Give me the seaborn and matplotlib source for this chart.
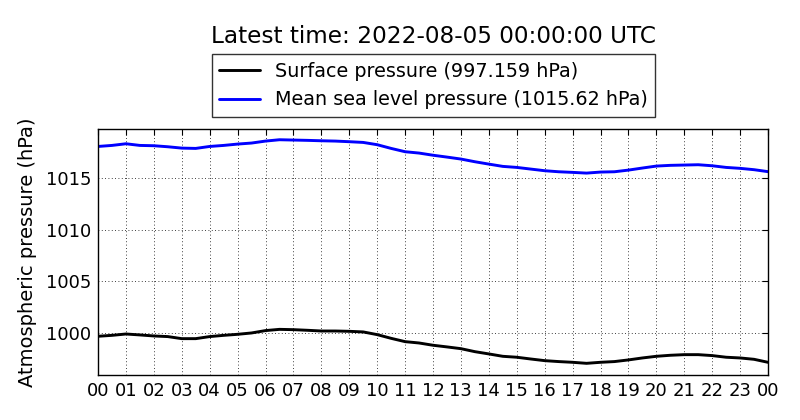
import numpy as np
import pandas as pd
import seaborn as sns
import matplotlib
matplotlib.use("Agg")
import matplotlib.pyplot as plt

# Half-hourly readings (hours since 2022-08-04 00:00 UTC)
hours = np.arange(0, 24.5, 0.5)

surface = [999.68, 999.77, 999.90, 999.81, 999.71, 999.65, 999.45, 999.45,
           999.65, 999.77, 999.87, 1000.00, 1000.23, 1000.35, 1000.32, 1000.26,
           1000.19, 1000.19, 1000.16, 1000.10, 999.84, 999.48, 999.16, 999.03,
           998.81, 998.65, 998.48, 998.19, 997.97, 997.74, 997.65, 997.48,
           997.32, 997.23, 997.16, 997.06, 997.16, 997.23, 997.39, 997.58,
           997.74, 997.84, 997.90, 997.90, 997.81, 997.65, 997.58, 997.45,
           997.159]

mslp = [1018.06, 1018.16, 1018.32, 1018.16, 1018.13, 1018.03, 1017.90, 1017.87,
        1018.06, 1018.16, 1018.29, 1018.39, 1018.58, 1018.71, 1018.68, 1018.65,
        1018.61, 1018.58, 1018.52, 1018.45, 1018.23, 1017.87, 1017.55, 1017.42,
        1017.21, 1017.03, 1016.84, 1016.58, 1016.35, 1016.13, 1016.03, 1015.87,
        1015.71, 1015.61, 1015.55, 1015.48, 1015.58, 1015.61, 1015.77, 1015.97,
        1016.16, 1016.23, 1016.26, 1016.29, 1016.19, 1016.03, 1015.94, 1015.81,
        1015.62]

hour_ticks = list(range(25))
hour_labels = [f"{h % 24:02d}" for h in hour_ticks]
y_ticks = [1000, 1005, 1010, 1015]

df = pd.DataFrame({"hour": hours, "surface": surface, "mslp": mslp})

sns.set_style("white")
plt.rcParams.update({
    "font.family": ["DejaVu Sans"],
    "text.color": "black",
    "axes.labelcolor": "black",
    "xtick.direction": "in",
    "ytick.direction": "in",
    "xtick.top": True,
    "ytick.right": True,
    "xtick.major.size": 4,
    "ytick.major.size": 4,
    "axes.edgecolor": "black",
    "axes.linewidth": 1.0,
})

fig, ax = plt.subplots(figsize=(8, 4.2), dpi=100)
fig.subplots_adjust(left=98 / 800, right=768 / 800, top=1 - 129 / 420, bottom=1 - 375 / 420)

sns.lineplot(data=df, x="hour", y="surface", ax=ax, color="black", linewidth=2.1,
             label=f"Surface pressure ({surface[-1]:g} hPa)")
sns.lineplot(data=df, x="hour", y="mslp", ax=ax, color="blue", linewidth=2.1,
             label=f"Mean sea level pressure ({mslp[-1]:g} hPa)")

ax.set_xlim(0, 24)
ax.set_ylim(995.93, 1019.75)
ax.set_xticks(hour_ticks)
ax.set_xticklabels(hour_labels)
ax.set_yticks(y_ticks)
ax.tick_params(axis="both", labelsize=13, colors="black", pad=5)
ax.grid(True, linestyle=(0, (1, 3)), color="black", linewidth=0.6)
ax.set_xlabel("")
ax.set_ylabel("Atmospheric pressure (hPa)", fontsize=14, labelpad=6)
for s in ax.spines.values():
    s.set_visible(True)
    s.set_color("black")

handles, labels = ax.get_legend_handles_labels()
ax.get_legend().remove()
leg = fig.legend(handles, labels, loc="lower center",
                 bbox_to_anchor=(433.5 / 800, 1 - 117 / 420),
                 borderaxespad=0, fontsize=13.8, frameon=True, fancybox=False,
                 edgecolor="black", handlelength=2.1)
leg.get_frame().set_linewidth(1.0)

fig.text(433.5 / 800, 1 - 43 / 420, "Latest time: 2022-08-05 00:00:00 UTC",
         ha="center", va="baseline", fontsize=16.7)

fig.savefig("out.png", dpi=100, facecolor="white")
